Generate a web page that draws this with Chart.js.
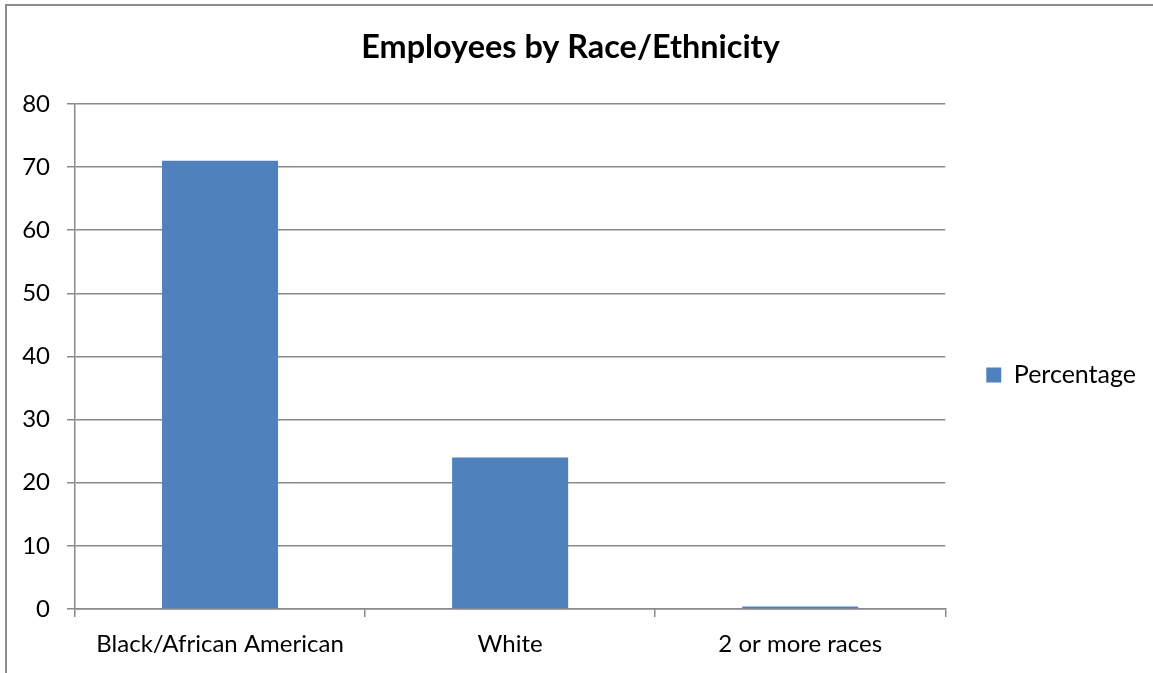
<!DOCTYPE html>
<html>
<head>
<meta charset="utf-8">
<script src="https://cdn.jsdelivr.net/npm/chart.js@4/dist/chart.umd.min.js"></script>
<style>
  html, body { margin: 0; padding: 0; background: #ffffff; }
  #wrap { width: 1153px; height: 673px; position: relative; }
</style>
</head>
<body>
<div id="wrap"><canvas id="chart" width="1153" height="673"></canvas></div>
<script>
// Workforce composition by race/ethnicity (percent of employees)
const categories = ['Black/African American', 'White', '2 or more races'];
const percentages = [71, 24, 0.4];
const seriesName = 'Percentage';
const yTicks = { min: 0, max: 80, step: 10 };

const FONT = 'Lato, "Open Sans", sans-serif';
const GRID = '#8a8a8a';

// Outer frame of the chart object (top and left edges)
const framePlugin = {
  id: 'frame',
  beforeDraw(chart) {
    const ctx = chart.ctx;
    ctx.save();
    ctx.strokeStyle = '#8c8c8c';
    ctx.lineWidth = 2;
    ctx.beginPath();
    ctx.moveTo(6, chart.height);
    ctx.lineTo(6, 5);
    ctx.lineTo(chart.width, 5);
    ctx.stroke();
    ctx.restore();
  }
};

// Place the legend block beside the plot, a little below its middle
const legendPlace = {
  id: 'legendPlace',
  beforeDraw(chart) {
    const lg = chart.legend;
    const area = chart.chartArea;
    if (!lg || !area) return;
    const w = lg.width;
    lg.left = area.right + 5;
    lg.right = lg.left + w;
    lg.top = area.top + 18.5;
    lg.bottom = area.bottom + 18.5;
  }
};

new Chart(document.getElementById('chart'), {
  type: 'bar',
  data: {
    labels: categories,
    datasets: [{
      label: seriesName,
      data: percentages,
      backgroundColor: '#4F81BD',
      borderWidth: 0,
      categoryPercentage: 1.0,
      barPercentage: 0.4
    }]
  },
  options: {
    responsive: false,
    animation: false,
    devicePixelRatio: 1,
    layout: { padding: { left: 0, right: 12, top: 0, bottom: 0 } },
    plugins: {
      title: {
        display: true,
        text: 'Employees by Race/Ethnicity',
        color: '#000000',
        font: { family: FONT, size: 32.4, weight: 'bold' },
        padding: { top: 28, bottom: 37 }
      },
      legend: {
        display: true,
        position: 'right',
        labels: {
          color: '#000000',
          font: { family: FONT, size: 25 },
          boxWidth: 15,
          boxHeight: 15,
          padding: 36
        }
      },
      tooltip: { enabled: false }
    },
    scales: {
      x: {
        grid: {
          display: true,
          drawOnChartArea: false,
          drawTicks: true,
          tickLength: 8,
          color: GRID,
          lineWidth: 1.5,
          offset: true
        },
        border: { display: true, color: GRID, width: 1.5 },
        ticks: {
          color: '#000000',
          font: { family: FONT, size: 24 },
          padding: 13,
          maxRotation: 0,
          autoSkip: false
        },
        afterFit(scale) { scale.height = 64; }
      },
      y: {
        min: yTicks.min,
        max: yTicks.max,
        grid: {
          display: true,
          drawOnChartArea: true,
          drawTicks: true,
          tickLength: 8,
          color: GRID,
          lineWidth: 1.5
        },
        border: { display: true, color: GRID, width: 1.5 },
        ticks: {
          stepSize: yTicks.step,
          color: '#000000',
          font: { family: FONT, size: 24 },
          padding: 17
        },
        afterFit(scale) { scale.width = 75; }
      }
    }
  },
  plugins: [framePlugin, legendPlace]
});
</script>
</body>
</html>
